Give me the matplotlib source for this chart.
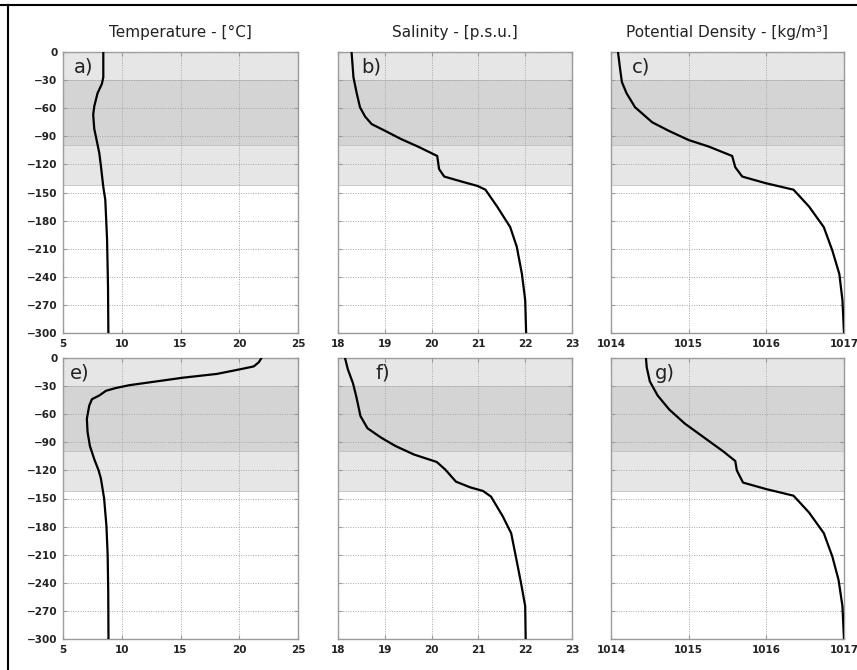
import numpy as np
import matplotlib.pyplot as plt
from matplotlib.lines import Line2D

# Profiles (depth in m, negative downwards)
# top row: a) temperature, b) salinity, c) potential density
temp_a_depth = [0, -27, -34, -44, -58, -67, -82, -94, -108, -122, -144, -158, -200, -250, -300]
temp_a = [8.43, 8.43, 8.31, 7.94, 7.66, 7.57, 7.66, 7.86, 8.09, 8.23, 8.43, 8.6, 8.75, 8.83, 8.86]

sal_b_depth = [0, -27, -44, -59, -69, -77, -84, -93, -101, -111, -125, -133, -139, -143, -147,
               -165, -187, -208, -237, -265, -300]
sal_b = [18.29, 18.33, 18.40, 18.47, 18.58, 18.72, 19.0, 19.35, 19.71, 20.12, 20.16, 20.27, 20.69,
         20.98, 21.15, 21.40, 21.68, 21.82, 21.93, 22.0, 22.02]

dens_c_depth = [0, -20, -32, -44, -59, -75, -84, -94, -101, -111, -123, -133, -140, -147,
                -165, -187, -212, -237, -265, -300]
dens_c = [1014.09, 1014.12, 1014.14, 1014.20, 1014.31, 1014.53, 1014.74, 1015.0, 1015.26, 1015.56,
          1015.60, 1015.69, 1015.99, 1016.35, 1016.55, 1016.74, 1016.85, 1016.94, 1016.98, 1017.0]

# bottom row: e) temperature, f) salinity, g) potential density
temp_e_depth = [0, -4.6, -9, -12, -17, -21, -26, -29, -32, -35, -40, -44, -51, -65, -79, -94,
                -108, -120, -129, -150, -180, -210, -250, -300]
temp_e = [21.89, 21.66, 21.23, 20.09, 18.09, 15.23, 12.37, 10.66, 9.51, 8.66, 8.09, 7.46, 7.23,
          7.03, 7.09, 7.29, 7.66, 8.03, 8.23, 8.5, 8.7, 8.8, 8.85, 8.87]

sal_f_depth = [0, -12, -27, -41, -62, -75, -85, -94, -103, -111, -119, -132, -138, -142, -148,
               -169, -187, -212, -240, -265, -300]
sal_f = [18.15, 18.21, 18.32, 18.39, 18.48, 18.63, 18.92, 19.23, 19.62, 20.11, 20.29, 20.52,
         20.82, 21.10, 21.27, 21.52, 21.70, 21.80, 21.91, 22.0, 22.01]

dens_g_depth = [0, -10, -25, -40, -55, -70, -85, -100, -110, -120, -133, -140, -147, -165, -187,
                -212, -237, -265, -300]
dens_g = [1014.45, 1014.46, 1014.5, 1014.6, 1014.75, 1014.95, 1015.2, 1015.45, 1015.6, 1015.62,
          1015.7, 1016.0, 1016.35, 1016.55, 1016.74, 1016.85, 1016.93, 1016.98, 1017.0]

# layer boundaries (m)
layer_top = [0, -30, -99]
layer_bottom = [-30, -99, -142]
layer_colors = ['#e6e6e6', '#d4d4d4', '#e6e6e6']

titles = ['Temperature - [\u00b0C]', 'Salinity - [p.s.u.]', 'Potential Density - [kg/m\u00b3]']
xlims = [(5, 25), (18, 23), (1014, 1017)]
xticks = [[5, 10, 15, 20, 25], [18, 19, 20, 21, 22, 23], [1014, 1015, 1016, 1017]]
yticks = list(range(0, -301, -30))

rows = [
    [(temp_a, temp_a_depth, 'a)'), (sal_b, sal_b_depth, 'b)'), (dens_c, dens_c_depth, 'c)')],
    [(temp_e, temp_e_depth, 'e)'), (sal_f, sal_f_depth, 'f)'), (dens_g, dens_g_depth, 'g)')],
]
label_x = [[0.045, 0.10, 0.09], [0.03, 0.16, 0.19]]

W, H = 857, 670
fig = plt.figure(figsize=(W / 100, H / 100), dpi=100)

col_left = [63, 338, 611]
col_width = [235, 234, 233]
row_top = [52, 358]
ax_h = 281

for r in range(2):
    for c in range(3):
        vals, depth, lab = rows[r][c]
        ax = fig.add_axes([col_left[c] / W, 1 - (row_top[r] + ax_h) / H, col_width[c] / W, ax_h / H])
        for t, b, col in zip(layer_top, layer_bottom, layer_colors):
            ax.axhspan(b, t, facecolor=col, edgecolor='#c2c2c2', lw=0.6, zorder=0)
        ax.plot(vals, depth, color='black', lw=1.6, zorder=3)
        ax.set_xlim(*xlims[c])
        ax.set_ylim(-300, 0)
        ax.set_xticks(xticks[c])
        ax.set_yticks(yticks)
        ax.grid(True, ls=(0, (1, 1.5)), color='#a6a6a6', lw=0.7, zorder=1)
        ax.set_axisbelow(False)
        for s in ax.spines.values():
            s.set_color('#999999')
            s.set_linewidth(1.0)
        ax.tick_params(direction='in', length=3, color='#999999', top=True, right=True,
                       labelsize=7.5, pad=4)
        for tl in ax.get_xticklabels() + ax.get_yticklabels():
            tl.set_fontweight('bold')
            tl.set_color('#222222')
        if c > 0:
            ax.set_yticklabels([])
        ax.text(label_x[r][c], 0.945, lab, transform=ax.transAxes, fontsize=14,
                va='center', ha='left', color='#222222', zorder=4)
        if r == 0:
            ax.set_title(titles[c], fontsize=11, pad=11, color='#222222')

# frame lines at top and left of the original figure
fig.add_artist(Line2D([0, 1], [1 - 5 / H, 1 - 5 / H], color='black', lw=1.5, transform=fig.transFigure))
fig.add_artist(Line2D([8 / W, 8 / W], [0, 1 - 5 / H], color='black', lw=1.5, transform=fig.transFigure))

plt.savefig('out.png', dpi=100)
